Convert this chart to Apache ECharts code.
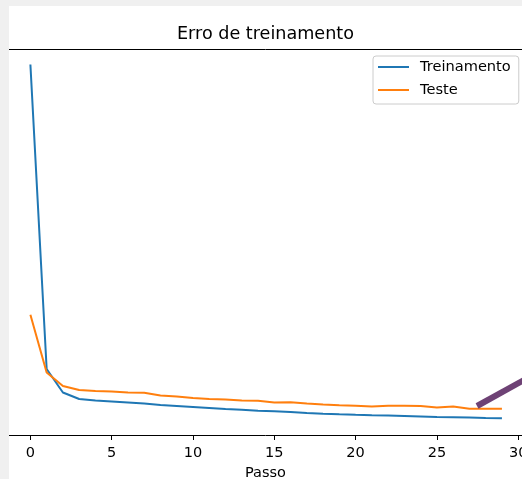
<!DOCTYPE html>
<html><head><meta charset="utf-8">
<script src="https://cdn.jsdelivr.net/npm/echarts@6/dist/echarts.min.js"></script>
<style>
html,body{margin:0;padding:0;background:#f0f0f0;overflow:hidden;}
#chart{position:absolute;left:9px;top:6px;width:513px;height:473px;background:#fff;}
</style></head><body><div id="chart"></div>
<script>
const titleText = 'Erro de treinamento';
const xName = 'Passo';
const seriesNames = ['Treinamento', 'Teste'];
const steps = [0,1,2,3,4,5,6,7,8,9,10,11,12,13,14,15,16,17,18,19,20,21,22,23,24,25,26,27,28,29];
const treinamento = [0.3705,0.066,0.0425,0.036,0.0345,0.0335,0.0325,0.0315,0.030,0.029,0.028,0.027,0.026,0.0252,0.0242,0.0237,0.023,0.022,0.0213,0.0207,0.0202,0.0198,0.0195,0.019,0.0185,0.018,0.0177,0.0174,0.017,0.0167];
const teste = [0.1203,0.0625,0.049,0.045,0.044,0.0435,0.0425,0.0423,0.0395,0.0385,0.037,0.036,0.0355,0.0345,0.0342,0.0325,0.0328,0.0315,0.0305,0.0298,0.0293,0.0285,0.0293,0.0292,0.0289,0.0275,0.0285,0.0263,0.0263,0.0263];
const xTicks = [0,5,10,15,20,25,30];
const markX = [27.47, 31];
const markY = [0.029, 0.0607];

const FONT = 'DejaVu Sans';
const chart = echarts.init(document.getElementById('chart'), null, {renderer:'canvas'});
const pairs = (xs, ys) => xs.map((x,i)=>[x, ys[i]]);
const xMin = -1.316, xMax = 30.234;
chart.setOption({
  animation:false,
  backgroundColor:'#ffffff',
  title:{text:titleText,left:'center',top:19,padding:0,
    textStyle:{fontFamily:FONT,fontSize:17.6,fontWeight:'normal',color:'#000'}},
  legend:{
    data:seriesNames, orient:'vertical', left:364, top:50,
    icon:'rect', itemWidth:31, itemHeight:2, itemGap:7,
    backgroundColor:'rgba(255,255,255,0.8)', borderColor:'#cccccc', borderWidth:1, borderRadius:3,
    padding:[3,8,6,5],
    textStyle:{fontFamily:FONT,fontSize:14.6,color:'#000',lineHeight:16,padding:[0,0,0,6]}
  },
  grid:{left:0,right:0,top:43,bottom:44,containLabel:false,outerBoundsMode:'none'},
  xAxis:[{
    type:'value', position:'bottom', min:xMin, max:xMax,
    name:xName, nameLocation:'middle', nameGap:30,
    nameTextStyle:{fontFamily:FONT,fontSize:14.5,color:'#000'},
    axisLine:{show:true,onZero:false,lineStyle:{color:'#000',width:1}},
    axisTick:{show:true,length:5,customValues:xTicks,lineStyle:{color:'#000',width:1}},
    axisLabel:{show:true,customValues:xTicks,margin:11,fontFamily:FONT,fontSize:14.5,color:'#000',hideOverlap:false},
    splitLine:{show:false}
  },{
    type:'value', position:'top', min:xMin, max:xMax,
    axisLine:{show:true,onZero:false,lineStyle:{color:'#000',width:1}},
    axisTick:{show:false}, axisLabel:{show:false}, splitLine:{show:false}
  }],
  yAxis:{type:'value',min:0,max:0.386,show:false,splitLine:{show:false}},
  series:[
    {name:seriesNames[0],type:'line',data:pairs(steps,treinamento),showSymbol:false,symbol:'none',
     lineStyle:{color:'#1f77b4',width:2},itemStyle:{color:'#1f77b4'},z:3},
    {name:seriesNames[1],type:'line',data:pairs(steps,teste),showSymbol:false,symbol:'none',
     lineStyle:{color:'#ff7f0e',width:2},itemStyle:{color:'#ff7f0e'},z:4},
    {name:'marca',type:'line',data:pairs(markX,markY),showSymbol:false,symbol:'none',
     lineStyle:{color:'#6e4275',width:6,cap:'butt'},z:5,silent:true}
  ]
});
</script></body></html>
